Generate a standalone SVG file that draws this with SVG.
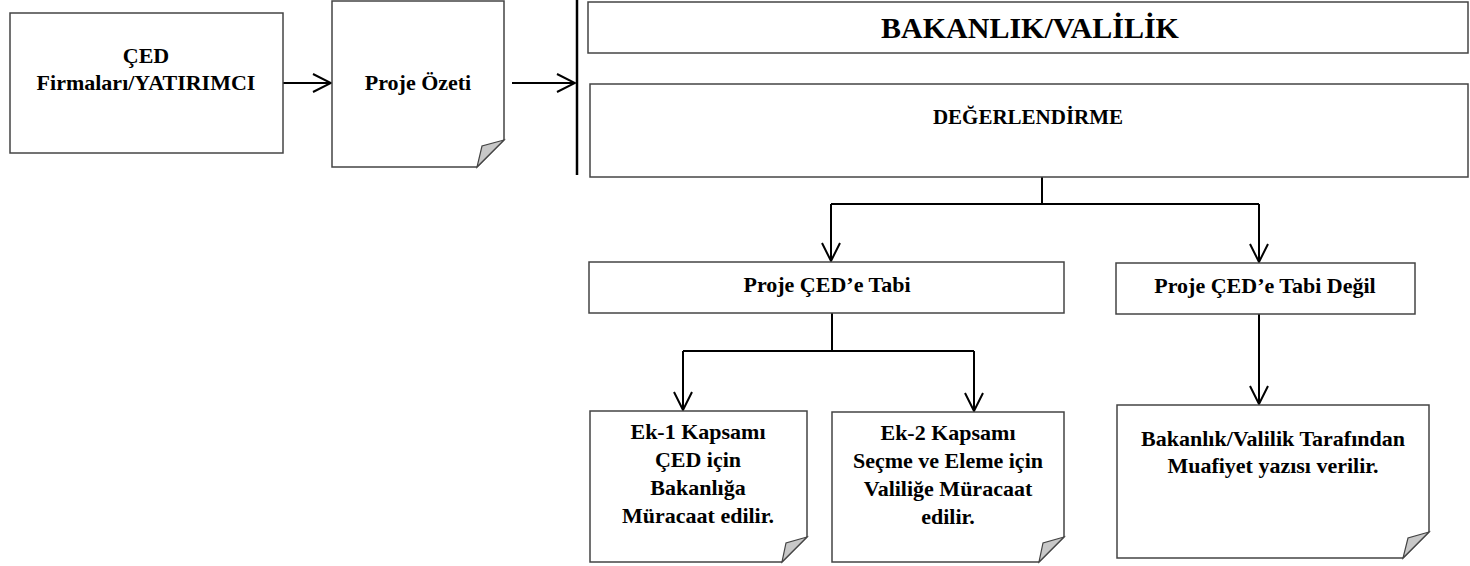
<svg xmlns="http://www.w3.org/2000/svg" width="1470" height="566" viewBox="0 0 1470 566">
<defs>
<style>
.box{fill:#fff;stroke:#444;stroke-width:1.5}
.fold{fill:#c8c8c8;stroke:#444;stroke-width:1.2}
.t{font-family:"Liberation Serif","Times New Roman",serif;font-weight:bold;font-size:22px;fill:#000;text-anchor:middle}
.c{fill:none;stroke:#000;stroke-width:2}
</style>
<marker id="ah" viewBox="0 0 20 20" refX="19" refY="10" markerWidth="20" markerHeight="20" markerUnits="userSpaceOnUse" orient="auto">
<path d="M1,1 L19,10 L1,19" fill="none" stroke="#000" stroke-width="2"/>
</marker>
</defs>
<rect width="1470" height="566" fill="#fff"/>
<g id="connectors">
<line class="c" x1="283" y1="83" x2="331" y2="83" marker-end="url(#ah)"/>
<line class="c" x1="512" y1="83" x2="575" y2="83" marker-end="url(#ah)"/>
<line x1="577" y1="0" x2="577" y2="175" stroke="#000" stroke-width="2.5"/>
<path class="c" d="M1042,177 V204 M831,204 H1259"/>
<line class="c" x1="831" y1="204" x2="831" y2="261" marker-end="url(#ah)"/>
<line class="c" x1="1259" y1="204" x2="1259" y2="262" marker-end="url(#ah)"/>
<path class="c" d="M832,313 V351 M683,351 H974"/>
<line class="c" x1="683" y1="351" x2="683" y2="410" marker-end="url(#ah)"/>
<line class="c" x1="974" y1="351" x2="974" y2="411" marker-end="url(#ah)"/>
<line class="c" x1="1259" y1="314" x2="1259" y2="404" marker-end="url(#ah)"/>
</g>
<g id="n1">
<rect class="box" x="10" y="13" width="273" height="140"/>
<text class="t" x="146" y="63">ÇED</text>
<text class="t" x="146" y="90">Firmaları/YATIRIMCI</text>
</g>
<g id="n2">
<path class="box" d="M332,1 H504 V140 L477,167 H332 Z"/>
<path class="fold" d="M504,140 L482,146 L477,167 Z"/>
<text class="t" x="418" y="90">Proje Özeti</text>
</g>
<g id="n3">
<rect class="box" x="588" y="2" width="880" height="51"/>
<text class="t" x="1030" y="38" style="font-size:30px">BAKANLIK/VALİLİK</text>
</g>
<g id="n4">
<rect class="box" x="590" y="84" width="878" height="93"/>
<text class="t" x="1028" y="124" style="font-size:21px">DEĞERLENDİRME</text>
</g>
<g id="n5">
<rect class="box" x="589" y="262" width="475" height="51"/>
<text class="t" x="827" y="292">Proje ÇED’e Tabi</text>
</g>
<g id="n6">
<rect class="box" x="1116" y="263" width="299" height="51"/>
<text class="t" x="1265" y="293">Proje ÇED’e Tabi Değil</text>
</g>
<g id="n7">
<path class="box" d="M590,411 H807 V537 L782,562 H590 Z"/>
<path class="fold" d="M807,537 L786,543 L782,562 Z"/>
<text class="t" x="698" y="439">Ek-1 Kapsamı</text>
<text class="t" x="698" y="467">ÇED için</text>
<text class="t" x="698" y="495">Bakanlığa</text>
<text class="t" x="698" y="523">Müracaat edilir.</text>
</g>
<g id="n8">
<path class="box" d="M832,412 H1064 V537 L1039,562 H832 Z"/>
<path class="fold" d="M1064,537 L1043,543 L1039,562 Z"/>
<text class="t" x="948" y="440">Ek-2 Kapsamı</text>
<text class="t" x="948" y="468">Seçme ve Eleme için</text>
<text class="t" x="948" y="496">Valiliğe Müracaat</text>
<text class="t" x="948" y="524">edilir.</text>
</g>
<g id="n9">
<path class="box" d="M1117,405 H1429 V532 L1403,558 H1117 Z"/>
<path class="fold" d="M1429,532 L1408,538 L1403,558 Z"/>
<text class="t" x="1273" y="446">Bakanlık/Valilik Tarafından</text>
<text class="t" x="1273" y="473">Muafiyet yazısı verilir.</text>
</g>
</svg>
